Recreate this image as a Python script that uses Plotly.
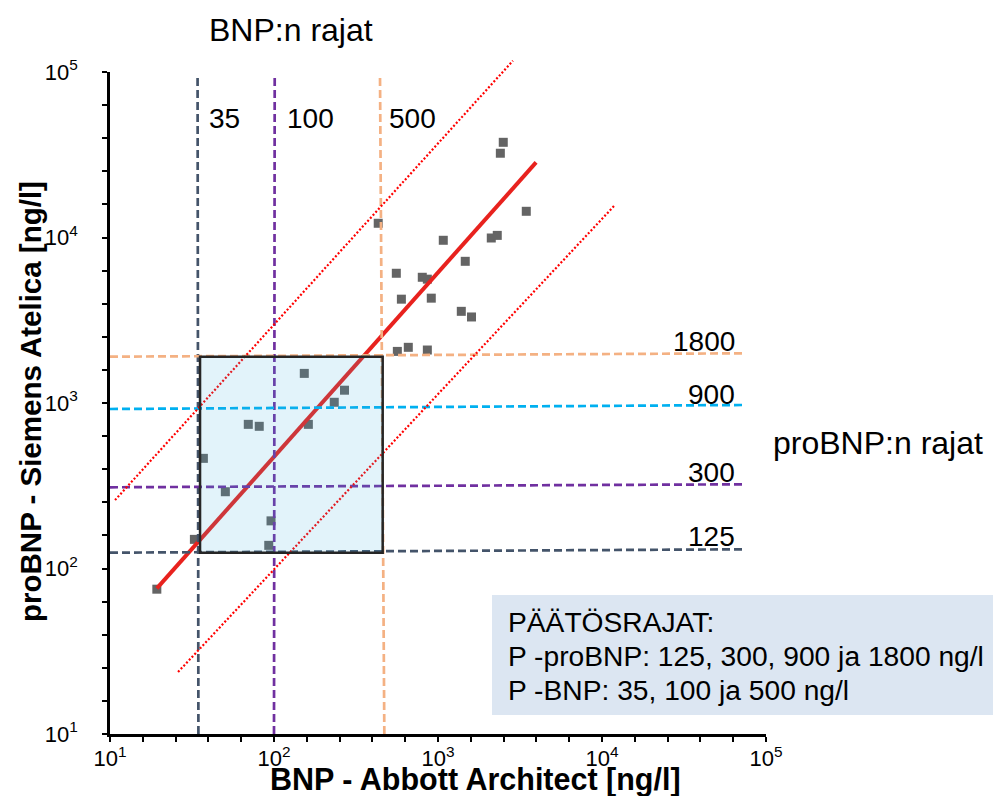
import plotly.graph_objects as go

# ---------------- data ----------------
bnp = [19.3, 32.7, 37.1, 50.5, 69.7, 81.3, 95.9, 92.9, 153, 162, 233, 269,
       432, 557, 598, 802, 861, 910, 1077, 1466, 1387, 1600, 2113, 2298,
       2400, 2500, 3454, 565, 659, 861]
probnp = [75, 150, 463, 291, 743, 723, 194, 138, 1510, 743, 1010, 1195,
          12190, 6080, 4240, 5750, 5600, 4300, 9620, 7180, 3580, 3310, 9930, 10300,
          32300, 37600, 14400, 2050, 2170, 2090]

# regression line and the two dotted limit lines (end points)
fit_x = [19.3, 3963]
fit_y = [75.9, 28450]
upper_x = [10.73, 2864]
upper_y = [259, 117000]
lower_x = [26.0, 11990]
lower_y = [23.7, 15700]

# BNP decision limits (vertical lines)
bnp_labels = ["35", "100", "500"]
bnp_x_bottom = [34.6, 100, 470.7]
bnp_x_top = [34.2, 101, 443]
bnp_y_ends = [10, 93300]

# proBNP decision limits (horizontal lines)
pro_labels = ["125", "300", "900", "1800"]
pro_y_left = [124.6, 309.5, 919.7, 1905]
pro_y_right = [130.6, 322.7, 973, 1997]
pro_x_ends = [10, 74500]

# shaded box (35..500 BNP, 125..1800 proBNP)
box_x = [35.4, 460]
box_y = [124.6, 1905]

x_tickvals = [10, 100, 1000, 10000, 100000]
x_ticktext = ["10<sup>1</sup>", "10<sup>2</sup>", "10<sup>3</sup>", "10<sup>4</sup>", "10<sup>5</sup>"]
y_tickvals = [10, 100, 1000, 10000, 100000]
y_ticktext = ["10<sup>1</sup>", "10<sup>2</sup>", "10<sup>3</sup>", "10<sup>4</sup>", "10<sup>5</sup>"]

info_lines = ["PÄÄTÖSRAJAT:", "P -proBNP: 125, 300, 900 ja 1800 ng/l", "P -BNP: 35, 100 ja 500 ng/l"]

# ---------------- styles ----------------
FONT = "Liberation Sans, Arial, sans-serif"
bnp_colors = ["#44546A", "#7030A0", "#F4B183"]
pro_colors = ["#44546A", "#7030A0", "#00B0F0", "#F4B183"]
DASH = "8px,4px"

W, H = 993, 796
ML, MR, MT, MB = 110, 227, 50, 62
PW = W - ML - MR
PH = H - MT - MB
MAIN_H = 662  # height of main plotting area


def px2x(px):
    return (px - ML) / PW


def px2y(py):
    return (H - MB - py) / PH


fig = go.Figure()

# points
fig.add_trace(go.Scatter(x=bnp, y=probnp, mode="markers",
                         marker=dict(symbol="square", size=9, color="#646464"),
                         showlegend=False, hoverinfo="x+y"))
# regression line
fig.add_trace(go.Scatter(x=fit_x, y=fit_y, mode="lines",
                         line=dict(color="#E8221E", width=4), showlegend=False))

# vertical BNP limits
for lab, xb, xt, c in zip(bnp_labels, bnp_x_bottom, bnp_x_top, bnp_colors):
    fig.add_trace(go.Scatter(x=[xb, xt], y=bnp_y_ends, mode="lines",
                             line=dict(color=c, width=2.7, dash=DASH),
                             showlegend=False, name=lab))
# horizontal proBNP limits
for lab, yl, yr, c in zip(pro_labels, pro_y_left, pro_y_right, pro_colors):
    fig.add_trace(go.Scatter(x=pro_x_ends, y=[yl, yr], mode="lines",
                             line=dict(color=c, width=2.7, dash=DASH),
                             showlegend=False, name=lab))

# dotted lines on an extended overlay subplot so they can pass the top edge
fig.add_trace(go.Scatter(x=upper_x, y=upper_y, mode="lines", xaxis="x2", yaxis="y2",
                         line=dict(color="#FF0000", width=2.2, dash="2px,2px"), showlegend=False))
fig.add_trace(go.Scatter(x=lower_x, y=lower_y, mode="lines", xaxis="x2", yaxis="y2",
                         line=dict(color="#FF0000", width=2.2, dash="2px,2px"), showlegend=False))

axis_common = dict(type="log", showgrid=False, zeroline=False, showline=True,
                   linecolor="black", linewidth=2.5, ticks="outside", ticklen=5,
                   tickwidth=2, tickcolor="black",
                   tickfont=dict(family=FONT, size=22, color="black"),
                   minor=dict(dtick=0.2, tick0=1, ticks="outside", ticklen=5,
                              tickwidth=1.5, tickcolor="black", showgrid=False))

fig.update_layout(
    width=W, height=H,
    margin=dict(l=ML, r=MR, t=MT, b=MB),
    paper_bgcolor="white", plot_bgcolor="rgba(0,0,0,0)",
    showlegend=False,
    xaxis=dict(range=[1, 5], domain=[0, 1], anchor="y", tickmode="array",
               tickvals=x_tickvals, ticktext=x_ticktext, ticklabelstandoff=-2,
               **axis_common),
    yaxis=dict(range=[1, 5], domain=[0, MAIN_H / PH], anchor="x", tickmode="array",
               tickvals=y_tickvals, ticktext=y_ticktext, ticklabelstandoff=20,
               **axis_common),
    xaxis2=dict(type="log", range=[1, 5], domain=[0, 1], anchor="y2", visible=False),
    yaxis2=dict(type="log", range=[1, 1 + 4 * PH / MAIN_H], domain=[0, 1], anchor="x2",
                visible=False),
)

shapes = []
# translucent light-blue box on top
shapes.append(dict(type="rect", xref="x", yref="y", x0=box_x[0], x1=box_x[1],
                   y0=box_y[0], y1=box_y[1], layer="above",
                   fillcolor="rgba(62,175,222,0.15)",
                   line=dict(color="#262626", width=2.5)))
# info box background
shapes.append(dict(type="rect", xref="paper", yref="paper",
                   x0=px2x(492), x1=px2x(1000), y0=px2y(715), y1=px2y(595),
                   fillcolor="#DCE6F2", line=dict(width=0), layer="above"))
fig.update_layout(shapes=shapes)

ann = []


def text(s, px, py, size, anchor="center", bold=False):
    ann.append(dict(text=f"<b>{s}</b>" if bold else s, xref="paper", yref="paper",
                    x=px2x(px), y=px2y(py), xanchor=anchor, yanchor="middle",
                    showarrow=False, font=dict(family=FONT, size=size, color="black")))


text("BNP:n rajat", 291, 30, 32)
text("proBNP:n rajat", 771, 443, 32, "left")
for lab, px in zip(bnp_labels, [207, 285, 387]):
    text(lab, px, 118, 28, "left")
for lab, py in zip(pro_labels, [536, 472, 394, 341]):
    text(lab, 737, py, 28, "right")
for s, py in zip(info_lines, [622, 656, 690]):
    text(s, 506, py, 28.2, "left")

# axis titles
text("BNP - Abbott Architect [ng/l]", 475, 779, 30.5, "center", bold=True)
ann.append(dict(text="<b>proBNP - Siemens Atelica [ng/l]</b>", xref="paper", yref="paper",
                x=px2x(30), y=px2y(402), xanchor="center", yanchor="middle", textangle=-90,
                showarrow=False, font=dict(family=FONT, size=29.5, color="black")))

fig.update_layout(annotations=ann)

fig.write_html("out.html")
